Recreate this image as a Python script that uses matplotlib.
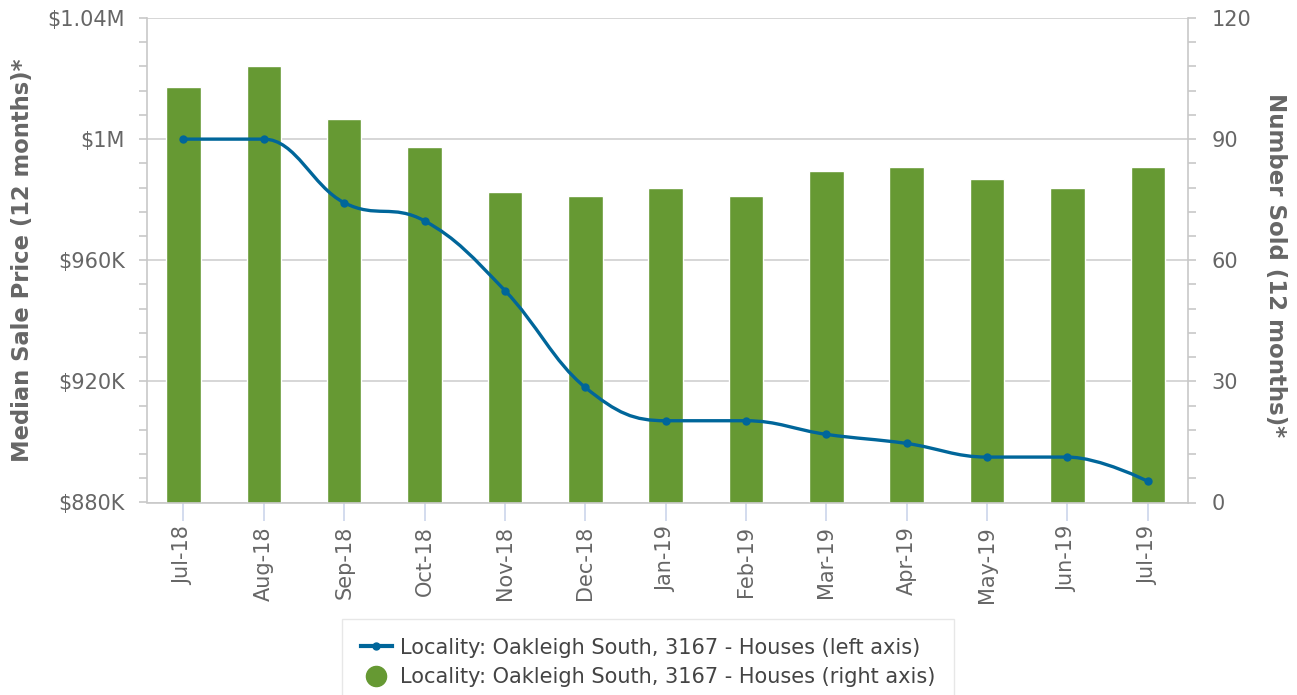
"""
Median sale price (line, left axis) and number sold (bars, right axis)
for Oakleigh South 3167 houses, 12 month rolling, Jul-18 to Jul-19.
"""
import matplotlib
matplotlib.use("Agg")
from matplotlib import pyplot as plt
from matplotlib.path import Path
from matplotlib.patches import PathPatch
from matplotlib.lines import Line2D
from matplotlib.ticker import FixedLocator, MultipleLocator

months = ["Jul-18", "Aug-18", "Sep-18", "Oct-18", "Nov-18", "Dec-18", "Jan-19",
          "Feb-19", "Mar-19", "Apr-19", "May-19", "Jun-19", "Jul-19"]
# median sale price, thousands of dollars
price_k = [1000, 1000, 979, 973, 950, 918, 907, 907, 902.5, 899.5, 895, 895, 887]
# number sold
sold = [103, 108, 95, 88, 77, 76, 78, 76, 82, 83, 80, 78, 83]

price_ticks = [880, 920, 960, 1000, 1040]
price_labels = ["$880K", "$920K", "$960K", "$1M", "$1.04M"]
sold_ticks = [0, 30, 60, 90, 120]

line_label = "Locality: Oakleigh South, 3167 - Houses (left axis)"
bar_label = "Locality: Oakleigh South, 3167 - Houses (right axis)"

blue = "#00669a"
green = "#669933"
grey_text = "#666666"
axis_grey = "#c8c8c8"
fs = 15


def spline_path(xs, ys, smoothing=1.5):
    # same control points as a highcharts 'spline' series
    denom = smoothing + 1
    n = len(xs)
    right = [None] * n
    verts = [(xs[0], ys[0])]
    codes = [Path.MOVETO]
    for i in range(1, n):
        x, y = xs[i], ys[i]
        lx, ly = x, y
        if i < n - 1:
            px, py = xs[i - 1], ys[i - 1]
            nx, ny = xs[i + 1], ys[i + 1]
            lx = (smoothing * x + px) / denom
            ly = (smoothing * y + py) / denom
            rx = (smoothing * x + nx) / denom
            ry = (smoothing * y + ny) / denom
            corr = 0
            if rx != lx:
                corr = (ry - ly) * (rx - x) / (rx - lx) + y - ry
            ly += corr
            ry += corr
            if ly > py and ly > y:
                ly = max(py, y)
                ry = 2 * y - ly
            elif ly < py and ly < y:
                ly = min(py, y)
                ry = 2 * y - ly
            if ry > ny and ry > y:
                ry = max(ny, y)
                ly = 2 * y - ry
            elif ry < ny and ry < y:
                ry = min(ny, y)
                ly = 2 * y - ry
            right[i] = (rx, ry)
        c1 = right[i - 1] if right[i - 1] is not None else (xs[i - 1], ys[i - 1])
        verts += [c1, (lx, ly), (x, y)]
        codes += [Path.CURVE4] * 3
    return Path(verts, codes)


fig = plt.figure(figsize=(12.97, 6.95), dpi=100)
ax = fig.add_axes([147 / 1297, 1 - 502.5 / 695, 1041 / 1297, 484.5 / 695])
ax2 = ax.twinx()
ax.set_zorder(ax2.get_zorder() + 1)
ax.patch.set_visible(False)

x = list(range(len(months)))

# bars on the right axis
ax2.bar(x, sold, width=0.43, color=green, edgecolor="white", linewidth=1, zorder=2)
ax2.set_ylim(0, 120)
ax2.yaxis.set_major_locator(FixedLocator(sold_ticks))
ax2.yaxis.set_minor_locator(MultipleLocator(6))
ax2.grid(axis="y", color="#d0d0d0", linewidth=1.2, zorder=0)
ax2.set_axisbelow(True)

# spline line on the left axis
ax.add_patch(PathPatch(spline_path(x, price_k), facecolor="none", edgecolor=blue,
                       linewidth=2.4, zorder=3))
ax.plot(x, price_k, linestyle="none", marker="o", markersize=5, color=blue, zorder=4)
ax.set_ylim(880, 1040)
ax.set_xlim(-0.454, len(months) - 0.5)
ax.yaxis.set_major_locator(FixedLocator(price_ticks))
ax.set_yticklabels(price_labels)
ax.yaxis.set_minor_locator(MultipleLocator(8))
ax.set_xticks(x)
ax.set_xticklabels(months, rotation=90)

for a in (ax, ax2):
    for s in a.spines.values():
        s.set_color(axis_grey)
        s.set_linewidth(1.2)
    a.spines["top"].set_visible(False)
ax.spines["right"].set_visible(False)
ax2.spines["left"].set_visible(False)
ax2.spines["bottom"].set_visible(False)

ax.tick_params(axis="y", which="both", length=6, width=1.2, color=axis_grey,
               labelcolor=grey_text, labelsize=fs, pad=10)
ax2.tick_params(axis="y", which="both", length=6, width=1.2, color=axis_grey,
                labelcolor=grey_text, labelsize=fs, pad=11)
ax.tick_params(axis="x", length=13, width=1.2, color="#ccd6eb",
               labelcolor=grey_text, labelsize=fs, pad=4)

ax.set_ylabel("Median Sale Price (12 months)*", fontsize=16.3, fontweight="bold",
              color=grey_text, va="center")
ax.yaxis.set_label_coords(-0.12, 0.5)
ax2.set_ylabel("Number Sold (12 months)*", fontsize=16.5, fontweight="bold",
               color=grey_text, rotation=-90, va="center")
ax2.yaxis.set_label_coords(1.0836, 0.49)

handles = [
    Line2D([], [], color=blue, linewidth=3, marker="o", markersize=5),
    Line2D([], [], color=green, linestyle="none", marker="o", markersize=14.5),
]
leg = fig.legend(handles, [line_label, bar_label], loc="upper left",
                 bbox_to_anchor=(342 / 1297, 1 - 619 / 695), borderaxespad=0,
                 fontsize=fs, frameon=True, fancybox=False, edgecolor="#e2e2e2",
                 handlelength=1.5, handletextpad=0.4, borderpad=0.9,
                 labelspacing=0.45, labelcolor="#444444")
leg.get_frame().set_linewidth(1)

fig.savefig("out.png", dpi=100)
